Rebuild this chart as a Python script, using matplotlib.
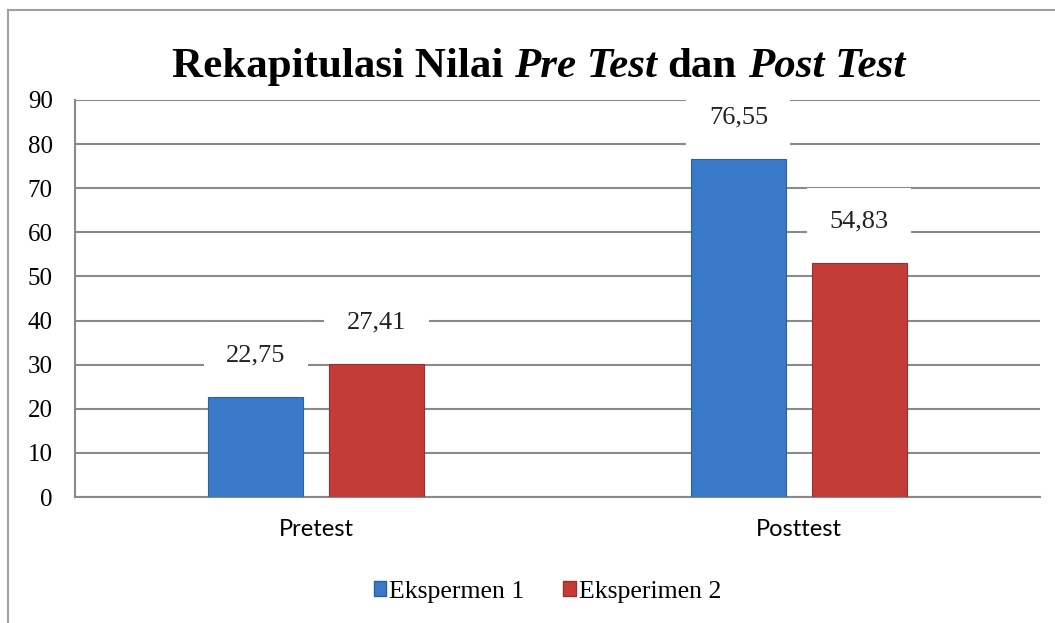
import numpy as np
import matplotlib
matplotlib.use("Agg")
import matplotlib.pyplot as plt
from matplotlib.patches import Patch
from matplotlib.lines import Line2D

categories = ["Pretest", "Posttest"]
series_names = ["Ekspermen 1", "Eksperimen 2"]
# bar heights as drawn in the picture
eksperimen1 = [22.75, 76.55]
eksperimen2 = [30.2, 53.1]
# values printed above the bars
labels1 = ["22,75", "76,55"]
labels2 = ["27,41", "54,83"]
yticks = [0, 10, 20, 30, 40, 50, 60, 70, 80, 90]
title_parts = [("Rekapitulasi Nilai", "normal"), ("Pre Test", "italic"),
               ("dan", "normal"), ("Post Test", "italic")]

blue = "#3a78c8"
red = "#c43c37"
grid_col = "#8a8a8a"
serif = "Liberation Serif"

fig = plt.figure(figsize=(10.55, 6.23), dpi=100)
ax = fig.add_axes([0.0711, 0.2022, 0.9147, 0.6373])

x = np.arange(len(categories))
w = 0.197
off = 0.125
b1 = ax.bar(x - off, eksperimen1, w, color=blue, edgecolor="#2e5f9e", linewidth=0.8, zorder=3)
b2 = ax.bar(x + off, eksperimen2, w, color=red, edgecolor="#9c2f2a", linewidth=0.8, zorder=3)

for bars, labs in ((b1, labels1), (b2, labels2)):
    for rect, lab in zip(bars, labs):
        ax.annotate(lab, (rect.get_x() + rect.get_width() / 2, rect.get_height()),
                    xytext=(0, 30), textcoords="offset points",
                    ha="center", va="center", fontsize=19, family=serif,
                    color="#222222", zorder=4,
                    bbox=dict(boxstyle="square,pad=0.85", fc="white", ec="none"))

ax.set_xlim(-0.5, 1.5)
ax.set_ylim(0, 90)
ax.set_yticks(yticks)
ax.set_yticklabels([str(v) for v in yticks], family=serif, fontsize=18)
ax.set_xticks(x)
ax.set_xticklabels(categories, family="Lato", fontsize=17)
ax.tick_params(axis="y", length=0, pad=16)
ax.tick_params(axis="x", length=0, pad=16)
ax.yaxis.grid(True, color=grid_col, linewidth=1.5, zorder=0)
ax.set_axisbelow(True)
for s in ("top", "right"):
    ax.spines[s].set_visible(False)
for s in ("left", "bottom"):
    ax.spines[s].set_color(grid_col)
    ax.spines[s].set_linewidth(1.5)

# title with mixed bold / bold-italic pieces, centred as a group
renderer = fig.canvas.get_renderer()
tsize = 31
texts = [fig.text(0, 0.876, t, ha="left", va="baseline", fontsize=tsize,
                  fontweight="bold", fontstyle=st, family=serif)
         for t, st in title_parts]
space = tsize * 0.25 / 72 * fig.dpi / fig.bbox.width
widths = [t.get_window_extent(renderer).width / fig.bbox.width for t in texts]
total = sum(widths) + space * (len(texts) - 1)
xpos = 0.5104 - total / 2
for t, wd in zip(texts, widths):
    t.set_x(xpos)
    xpos += wd + space

handles = [Patch(facecolor=blue, edgecolor="#2e5f9e"), Patch(facecolor=red, edgecolor="#9c2f2a")]
fig.legend(handles, series_names, loc="center", bbox_to_anchor=(0.519, 0.05), ncol=2,
           frameon=False, handlelength=0.5, handleheight=0.5, handletextpad=0.12,
           columnspacing=1.5, prop={"family": serif, "size": 18.5})

# outer chart border (top and left only visible)
fig.add_artist(Line2D([0.0076, 1.0], [0.984, 0.984], transform=fig.transFigure,
                      color="#a0a0a0", linewidth=1.5))
fig.add_artist(Line2D([0.0076, 0.0076], [0.0, 0.984], transform=fig.transFigure,
                      color="#a0a0a0", linewidth=1.5))

fig.savefig("out.png", dpi=100)
